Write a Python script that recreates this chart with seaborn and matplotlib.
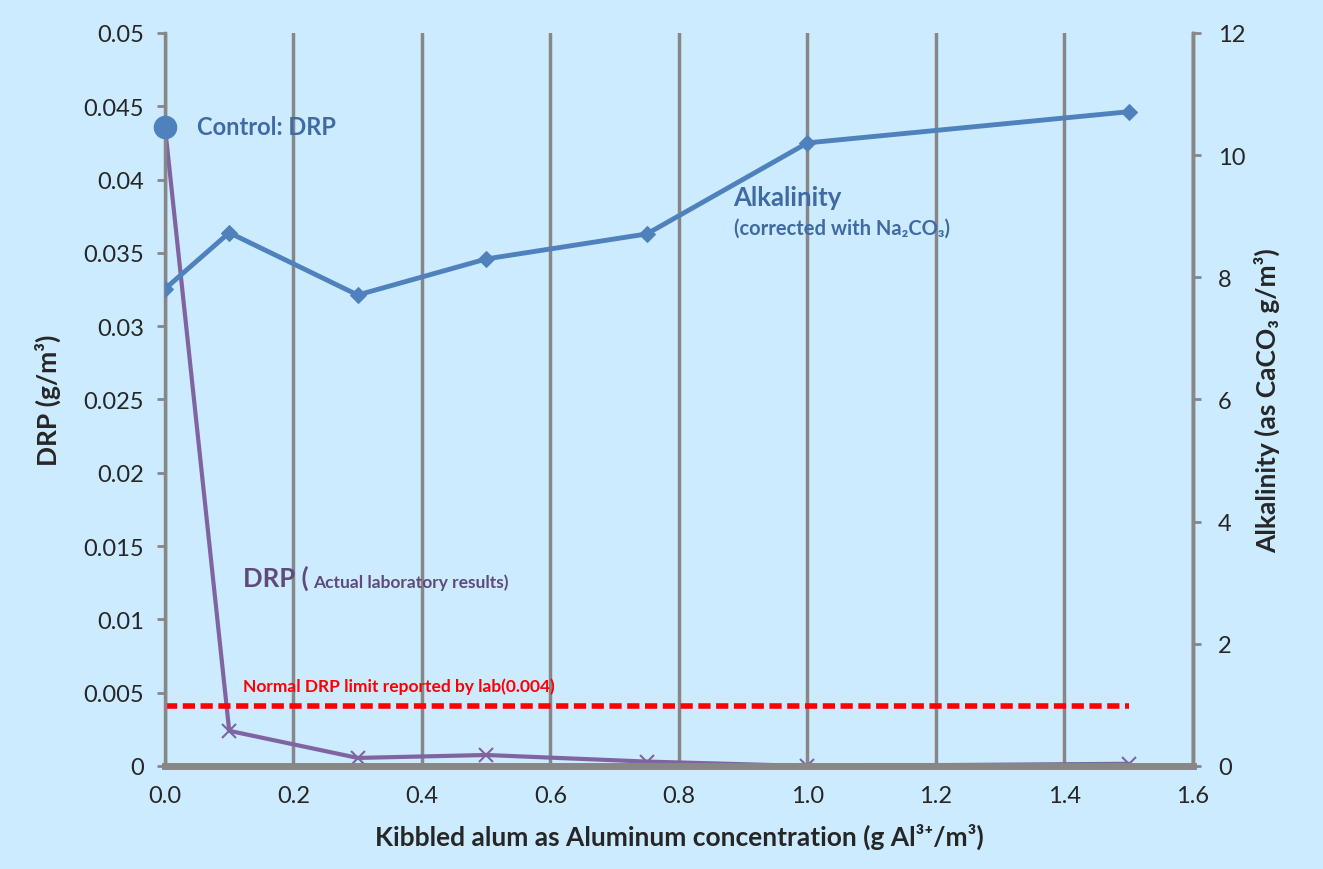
import matplotlib
matplotlib.use('Agg')
import matplotlib.pyplot as plt
import matplotlib.ticker as mticker
import seaborn as sns
import pandas as pd

# Data
alum = [0.0, 0.1, 0.3, 0.5, 0.75, 1.0, 1.5]
drp = [0.0436, 0.0024, 0.00055, 0.00075, 0.0003, 0.0, 0.00015]
alkalinity = [7.81, 8.73, 7.71, 8.30, 8.71, 10.20, 10.71]
drp_limit = 0.0041
limit_x = [0.0, 1.5]
control_x = [0.0]
control_drp = [0.0436]

df = pd.DataFrame({'alum': alum, 'drp': drp, 'alk': alkalinity})

sns.set_style('white')
plt.rcParams['font.family'] = ['Lato', 'DejaVu Sans']

bg = '#CCEBFF'
grid_c = '#878787'
blue = '#4F81BD'
purple = '#8064A2'
text_blue = '#3F6AA3'
text_purple = '#604A7B'

fig = plt.figure(figsize=(13.23, 8.70), dpi=100, facecolor=bg)
ax1 = fig.add_axes([0.1247, 0.1184, 0.777, 0.8426])
ax1.set_facecolor(bg)

# vertical gridlines
ax1.set_xlim(0, 1.6)
ax1.set_ylim(0, 0.05)
ax1.set_xticks([0, 0.2, 0.4, 0.6, 0.8, 1.0, 1.2, 1.4, 1.6])
ax1.xaxis.set_major_formatter(mticker.FormatStrFormatter('%.1f'))
ax1.set_yticks([0, 0.005, 0.01, 0.015, 0.02, 0.025, 0.03, 0.035, 0.04, 0.045, 0.05])
ax1.yaxis.set_major_formatter(mticker.FuncFormatter(lambda v, p: '{:g}'.format(round(v, 4))))
ax1.grid(axis='x', color=grid_c, linewidth=2.5)
ax1.set_axisbelow(True)

# DRP line
sns.lineplot(data=df, x='alum', y='drp', ax=ax1, color=purple, linewidth=3,
             marker='x', markersize=10, markeredgewidth=1.5, markeredgecolor=purple)
# control point
ax1.plot(control_x, control_drp, 'o', color=blue, markersize=16, clip_on=False, zorder=5)
# limit line
ax1.plot(limit_x, [drp_limit, drp_limit], color='#FF0000', linestyle=(0, (2.2, 1.0)),
         linewidth=4)

ax1.spines['top'].set_visible(False)
ax1.spines['left'].set_color(grid_c)
ax1.spines['left'].set_linewidth(2.5)
ax1.spines['bottom'].set_color(grid_c)
ax1.spines['bottom'].set_linewidth(5)
ax1.spines['right'].set_color(grid_c)
ax1.spines['right'].set_linewidth(2.5)
ax1.tick_params(axis='both', labelsize=17, color=grid_c, width=2, length=6, direction='out')
ax1.tick_params(axis='y', pad=9)
ax1.tick_params(axis='x', pad=8)

ax1.set_xlabel('Kibbled alum as Aluminum concentration (g Al³⁺/m³)', fontsize=19,
               fontweight='bold', labelpad=12)
ax1.set_ylabel('DRP (g/m³)', fontsize=19, fontweight='bold', labelpad=16)

# Alkalinity on secondary axis
ax2 = ax1.twinx()
ax2.patch.set_visible(False)
sns.lineplot(data=df, x='alum', y='alk', ax=ax2, color=blue, linewidth=3.5,
             marker='D', markersize=8, markeredgecolor=blue)
ax2.set_ylim(0, 12)
ax2.set_xlim(0, 1.6)
ax2.set_yticks([0, 2, 4, 6, 8, 10, 12])
for side in ['top', 'left', 'bottom']:
    ax2.spines[side].set_visible(False)
ax2.spines['right'].set_color(grid_c)
ax2.spines['right'].set_linewidth(2.5)
ax2.tick_params(axis='y', labelsize=17, color=grid_c, width=2, length=6, pad=12)
ax2.set_ylabel('Alkalinity (as CaCO₃ g/m³)', fontsize=19, fontweight='bold', labelpad=6)

# annotations
ax1.text(0.05, 0.0436, 'Control: DRP', fontsize=17, fontweight='bold', color=text_blue,
         va='center')
ax1.text(0.885, 0.0388, 'Alkalinity', fontsize=18.5, fontweight='bold', color=text_blue,
         va='center')
ax1.text(0.885, 0.0367, '(corrected with Na₂CO₃)', fontsize=14.5, fontweight='bold',
         color=text_blue, va='center')
t_drp = ax1.text(0.122, 0.0123, 'DRP (', fontsize=18.5, fontweight='bold',
                 color=text_purple, va='baseline')
ax1.annotate('Actual laboratory results)', xy=(1, 0), xycoords=t_drp, xytext=(3, 0),
             textcoords='offset points', fontsize=12.5, fontweight='bold',
             color=text_purple, va='bottom')
ax1.text(0.122, 0.0055, 'Normal DRP limit reported by lab(0.004)', fontsize=12.5,
         fontweight='bold', color='#FF0000', va='center')

plt.savefig('out.png', dpi=100, facecolor=bg)
